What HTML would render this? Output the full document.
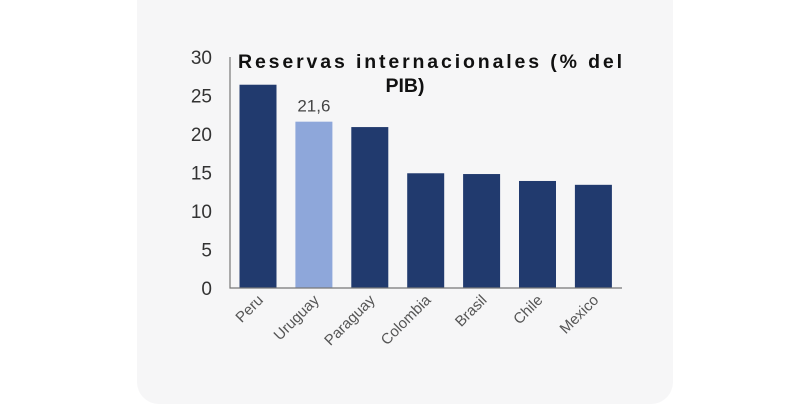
<!DOCTYPE html>
<html><head><meta charset="utf-8"><style>
html,body{margin:0;padding:0;background:#fff;}
svg{display:block;font-family:"Liberation Sans",sans-serif;}
</style></head><body>
<svg width="810" height="405" viewBox="0 0 810 405">
<rect x="137" y="-20" width="536" height="424" rx="22" fill="#f6f6f7"/>
<g id="plot"></g>
<text x="430" y="68" text-anchor="middle" font-size="19.5" font-weight="bold" fill="#111" textLength="384">Reservas internacionales (% del</text>
<text x="405" y="92" text-anchor="middle" font-size="19.5" font-weight="bold" fill="#111">PIB)</text>
</svg>
<script>
const categories=["Peru","Uruguay","Paraguay","Colombia","Brasil","Chile","Mexico"];
const values=[26.4,21.6,20.9,14.9,14.8,13.9,13.4];
const highlight=[false,true,false,false,false,false,false];
const yTicks=[0,5,10,15,20,25,30];
const valueLabels=["","21,6","","","","",""];
const NS="http://www.w3.org/2000/svg";
const g=document.getElementById('plot');
const x0=230,x1=622,yBase=288,yTop=57,yMax=30;
const y=v=>yBase-(v/yMax)*(yBase-yTop);
const step=55.9;
const bw=37;
const xc=i=>258+step*i;
function mk(t,a){const e=document.createElementNS(NS,t);for(const k in a)e.setAttribute(k,a[k]);g.appendChild(e);return e;}
yTicks.forEach(t=>{
  const e=mk('text',{x:212,y:y(t)+7,'text-anchor':'end','font-size':19,fill:'#333'});
  
  
  e.textContent=t;
});
categories.forEach((c,i)=>{
  const r=mk('rect',{x:xc(i)-bw/2,y:y(values[i]),width:bw,height:yBase-y(values[i]),fill:highlight[i]?'#8ea7da':'#213a6e'});
  
  
  if(valueLabels[i]){
    const v=mk('text',{x:xc(i),y:y(values[i])-10,'text-anchor':'middle','font-size':17,fill:'#444'});
    
    
    v.textContent=valueLabels[i];
  }
  const lx=xc(i)+6,ly=301;
  const t=mk('text',{x:lx,y:ly,'text-anchor':'end','font-size':15,fill:'#555',transform:`rotate(-45 ${lx} ${ly})`});
  
  
  t.textContent=c;
});
const ax=mk('path',{d:`M${x0} ${yTop} V${yBase} H${x1}`,fill:'none',stroke:'#777','stroke-width':1.2});


</script>
</body></html>
